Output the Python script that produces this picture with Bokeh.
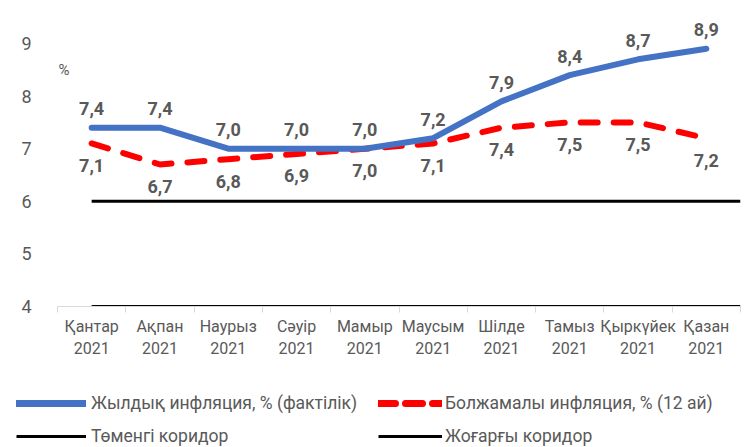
from bokeh.plotting import figure
from bokeh.layouts import column
from bokeh.models import (Range1d, LinearAxis, FixedTicker,
                          ColumnDataSource, LabelSet, Label, Legend, LegendItem)
from bokeh.core.properties import value
from bokeh.embed import file_html
from bokeh.resources import INLINE

# ---- data ----
months = ["Қантар", "Ақпан", "Наурыз", "Сәуір", "Мамыр", "Маусым",
          "Шілде", "Тамыз", "Қыркүйек", "Қазан"]
year = "2021"
actual = [7.4, 7.4, 7.0, 7.0, 7.0, 7.2, 7.9, 8.4, 8.7, 8.9]
expected = [7.1, 6.7, 6.8, 6.9, 7.0, 7.1, 7.4, 7.5, 7.5, 7.2]
corridor_low = 4
corridor_high = 6
y_ticks = [4, 5, 6, 7, 8, 9]
name_actual = "Жылдық инфляция, % (фактілік)"
name_expected = "Болжамалы инфляция, % (12 ай)"
name_low = "Төменгі коридор"
name_high = "Жоғарғы коридор"
unit_label = "%"

FONT = "Roboto"
GRAY = "#595959"
BLUE = "#4472C4"
RED = "#FF0000"

n = len(months)
idx = list(range(n))
cat_labels = {i: f"{m}\n{year}" for i, m in enumerate(months)}

def fmt(v):
    return f"{v:.1f}".replace(".", ",")

p = figure(width=745, height=380,
           x_range=Range1d(-0.5, n - 0.5),
           y_range=Range1d(4, 9.4),
           output_backend="svg", toolbar_location=None,
           x_axis_location=None,
           min_border_left=57, min_border_right=5,
           min_border_top=22, min_border_bottom=74)
p.frame_align = False
p.outline_line_color = None
p.xgrid.visible = False
p.ygrid.visible = False

# y axis
p.yaxis.ticker = FixedTicker(ticks=y_ticks)
p.yaxis.axis_line_color = None
p.yaxis.major_tick_line_color = None
p.yaxis.minor_tick_line_color = None
p.yaxis.major_label_standoff = 20
p.yaxis.major_label_text_font = FONT
p.yaxis.major_label_text_font_size = "18px"
p.yaxis.major_label_text_color = GRAY

# x axis: labels at category centres, small ticks at category boundaries
cat_axis = LinearAxis(ticker=FixedTicker(ticks=idx,
                                         minor_ticks=[i - 0.5 for i in range(n + 1)]),
                      major_label_overrides=cat_labels)
cat_axis.axis_line_color = "#D9D9D9"
cat_axis.major_tick_line_color = None
cat_axis.minor_tick_line_color = "#D9D9D9"
cat_axis.minor_tick_in = 0
cat_axis.minor_tick_out = 6
cat_axis.major_tick_out = 6
cat_axis.major_label_standoff = 4
cat_axis.major_label_text_font = FONT
cat_axis.major_label_text_font_size = "16px"
cat_axis.major_label_text_color = GRAY
p.add_layout(cat_axis, "below")

# corridors
cor_x = [idx[0], idx[-1] + 0.5]
p.line(x=cor_x, y=[corridor_low] * 2, line_color="black", line_width=3)
p.line(x=cor_x, y=[corridor_high] * 2, line_color="black", line_width=3)

src = ColumnDataSource(dict(x=idx, a=actual, e=expected,
                            al=[fmt(v) for v in actual],
                            el=[fmt(v) for v in expected]))

p.line("x", "e", source=src, line_color=RED, line_width=6,
       line_dash="17 16", line_cap="round", line_join="round")
p.line("x", "a", source=src, line_color=BLUE, line_width=6,
       line_cap="round", line_join="round")

lab_a = LabelSet(x="x", y="a", text="al", source=src, y_offset=19,
                 text_align="center", text_baseline="middle",
                 text_font=value(FONT), text_font_style="bold",
                 text_font_size="18px", text_color=GRAY)
lab_e = LabelSet(x="x", y="e", text="el", source=src, y_offset=-22,
                 text_align="center", text_baseline="middle",
                 text_font=value(FONT), text_font_style="bold",
                 text_font_size="18px", text_color=GRAY)
p.add_layout(lab_a)
p.add_layout(lab_e)

p.add_layout(Label(x=-0.5, y=8.5, x_offset=1, text=unit_label, text_align="left",
                   text_baseline="middle", text_font=FONT,
                   text_font_size="15px", text_color=GRAY))

# ---- legend strip below the chart ----
# The strip's ranges keep its copies of the series out of view; only the
# legend entries are seen.
p2 = figure(width=745, height=67, output_backend="svg", toolbar_location=None,
            x_range=Range1d(100, 101), y_range=Range1d(100, 101),
            x_axis_location=None, y_axis_location=None,
            min_border_left=0, min_border_right=0,
            min_border_top=0, min_border_bottom=0)
p2.frame_align = False
p2.outline_line_color = None
p2.xgrid.visible = False
p2.ygrid.visible = False

g_act = p2.line("x", "a", source=src, line_color=BLUE, line_width=7, line_cap="round")
g_exp = p2.line("x", "e", source=src, line_color=RED, line_width=7,
                line_dash="17 10", line_cap="round")
g_low = p2.line(x=cor_x, y=[corridor_low] * 2, line_color="black", line_width=3)
g_high = p2.line(x=cor_x, y=[corridor_high] * 2, line_color="black", line_width=3)

def mk_legend(items, loc, gw, standoff):
    lg = Legend(items=items, location=loc)
    lg.background_fill_alpha = 0
    lg.border_line_color = None
    lg.padding = 0
    lg.margin = 0
    lg.spacing = 13
    lg.glyph_width = gw
    lg.glyph_height = 20
    lg.label_height = 20
    lg.label_standoff = standoff
    lg.label_text_font = FONT
    lg.label_text_font_size = "17.5px"
    lg.label_text_color = GRAY
    return lg

leg1 = mk_legend([LegendItem(label=name_actual, renderers=[g_act]),
                  LegendItem(label=name_low, renderers=[g_low])], (16, 1), 70, 5)
leg2 = mk_legend([LegendItem(label=name_expected, renderers=[g_exp]),
                  LegendItem(label=name_high, renderers=[g_high])], (378, 1), 64, 3)
p2.add_layout(leg1, "center")
p2.add_layout(leg2, "center")

open("out.html", "w").write(file_html(column(p, p2, spacing=0), INLINE))
